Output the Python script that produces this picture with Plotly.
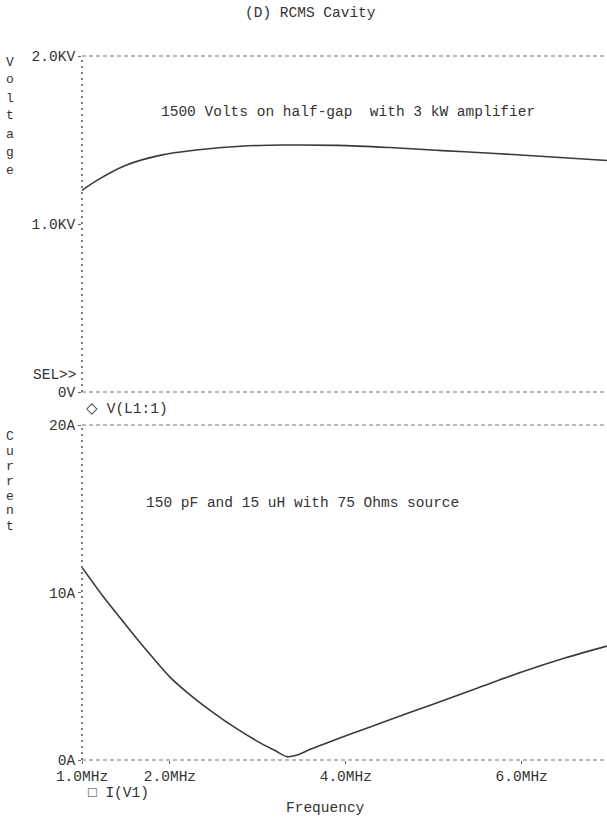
import plotly.graph_objects as go

# ---- data ----
freq_v = [1.0, 1.17, 1.5, 1.9, 2.3, 2.8, 3.3, 3.9, 4.5, 5.1, 5.7, 6.3, 6.97]
volt_kv = [1.20, 1.26, 1.35, 1.41, 1.44, 1.463, 1.47, 1.468, 1.455, 1.437, 1.42, 1.40, 1.378]

freq_i = [1.0, 1.25, 1.5, 1.75, 2.0, 2.25, 2.5, 2.75, 3.0, 3.2, 3.33, 3.45, 3.6, 3.8, 4.0,
          4.5, 5.0, 5.5, 6.0, 6.5, 6.97]
curr_a = [11.5, 9.7, 8.05, 6.45, 4.95, 3.8, 2.8, 1.9, 1.1, 0.55, 0.2, 0.3, 0.65, 1.05, 1.45,
          2.4, 3.35, 4.3, 5.25, 6.1, 6.8]

x_tickvals = [1, 2, 4, 6]
x_ticktext = ["1.0MHz", "2.0MHz", "4.0MHz", "6.0MHz"]
v_tickvals = [0, 1, 2]
v_ticktext = ["0V", "1.0KV", "2.0KV"]
i_tickvals = [0, 10, 20]
i_ticktext = ["0A", "10A", "20A"]

title_text = "(D) RCMS Cavity"
note_top = "1500 Volts on half-gap  with 3 kW amplifier"
note_bottom = "150 pF and 15 uH with 75 Ohms source"
ylab_top = "Voltage"
ylab_bottom = "Current"
xlab = "Frequency"
legend_v = "◇ V(L1:1)"
legend_i = "□ I(V1)"

FONT = "Liberation Mono"
INK = "#333333"
FS = 14.5
W, H = 607, 824
ML, MT, MB = 82, 56, 64
plot_h = H - MT - MB
top_y0 = 392  # pixel of 0V
bot_y1 = 425  # pixel of 20A
dom_top = [(H - MB - top_y0) / plot_h, 1.0]
dom_bot = [0.0, (H - MB - bot_y1) / plot_h]
XR = [1, 6.97]

fig = go.Figure()
fig.add_trace(go.Scatter(x=freq_v, y=volt_kv, mode="lines",
                         line=dict(color="#3a3a3a", width=1.6, shape="spline", smoothing=1.0),
                         xaxis="x2", yaxis="y2", showlegend=False))
fig.add_trace(go.Scatter(x=freq_i, y=curr_a, mode="lines",
                         line=dict(color="#3a3a3a", width=1.6, shape="spline", smoothing=0.8),
                         xaxis="x", yaxis="y", showlegend=False))

axfont = dict(family=FONT, size=FS, color=INK)
fig.update_layout(
    width=W, height=H,
    margin=dict(l=ML, r=0, t=MT, b=MB),
    paper_bgcolor="white", plot_bgcolor="white",
    xaxis=dict(domain=[0, 1], range=XR, anchor="y", tickvals=x_tickvals, ticktext=x_ticktext,
               showgrid=False, zeroline=False, showline=False, ticks="outside", ticklen=3,
               tickcolor="#666", tickfont=axfont),
    yaxis=dict(domain=dom_bot, range=[0, 20], anchor="x", tickvals=i_tickvals, ticktext=i_ticktext,
               showgrid=False, zeroline=False, showline=False, ticks="outside", ticklen=3,
               tickcolor="#666", tickfont=axfont),
    xaxis2=dict(domain=[0, 1], range=XR, anchor="y2", showticklabels=False, showgrid=False,
                zeroline=False, showline=False),
    yaxis2=dict(domain=dom_top, range=[0, 2], anchor="x2", tickvals=v_tickvals, ticktext=v_ticktext,
                showgrid=False, zeroline=False, showline=False, ticks="outside", ticklen=3,
                tickcolor="#666", tickfont=axfont),
)

dot = dict(color="#555", width=1.5, dash="2px,4px")
dash = dict(color="#777", width=1.2, dash="4px,3px")
shapes = [
    dict(type="line", xref="paper", yref="y2 domain", x0=0, x1=0, y0=0, y1=1, line=dot),
    dict(type="line", xref="paper", yref="y2 domain", x0=0, x1=1, y0=1, y1=1, line=dash),
    dict(type="line", xref="paper", yref="y2 domain", x0=0, x1=1, y0=0, y1=0, line=dash),
    dict(type="line", xref="paper", yref="y domain", x0=0, x1=0, y0=0, y1=1, line=dot),
    dict(type="line", xref="paper", yref="y domain", x0=0, x1=1, y0=1, y1=1, line=dash),
    dict(type="line", xref="paper", yref="y domain", x0=0, x1=1, y0=0, y1=0, line=dash),
]
fig.update_layout(shapes=shapes)

def px_ann(text, x, y, size=FS, xanchor="center", yanchor="middle"):
    fig.add_annotation(text=text, xref="paper", yref="paper",
                       x=(x - ML) / (W - ML), y=(H - MB - y) / plot_h,
                       showarrow=False, xanchor=xanchor, yanchor=yanchor,
                       font=dict(family=FONT, size=size, color=INK))

px_ann(title_text, 310, 13)
px_ann(note_top, 348, 112)
px_ann(note_bottom, 302, 503)
px_ann("SEL>>", 79, 375, xanchor="right")
px_ann(legend_v, 84, 409, xanchor="left")
px_ann(legend_i, 86, 793, xanchor="left")
px_ann(xlab, 325, 808)

for k, ch in enumerate(ylab_top):
    px_ann(ch, 10, 62 + k * 18, size=13)
for k, ch in enumerate(ylab_bottom):
    px_ann(ch, 10, 436 + k * 15, size=13)

fig.write_html("out.html")
